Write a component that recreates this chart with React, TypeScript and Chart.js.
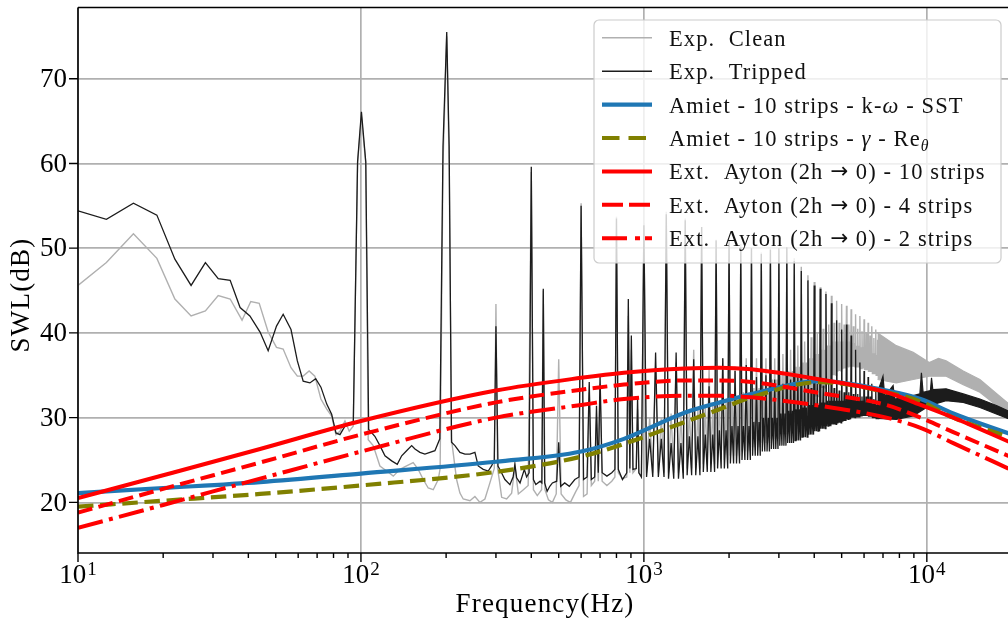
import React, { useEffect, useRef } from 'react';
import { Chart, registerables } from 'chart.js';

Chart.register(...registerables);

// ---------- Experimental data: low-frequency part (10 Hz – 1 kHz) ----------
const tripLowFreq = [10, 12.6, 15.7, 19.0, 22.0, 25.1, 28.2, 31.3, 34.5, 37.4,
  40.5, 44.0, 47.0, 50.3, 53.1, 56.6, 59.6, 62.5, 66.0, 69.2,
  72.2, 75.7, 78.8, 81.6, 84.3, 87.8, 91.0, 94.0, 97.3, 100.4,
  104, 106.5, 112, 116.7, 121.6, 128.4, 134.4, 139.3, 145, 151.1,
  155.2, 161.6, 168.3, 175.3, 182.6, 190, 195, 201, 205, 209,
  214.9, 223.8, 233.1, 242.8, 252.8, 259.7, 270.5, 281.8, 289.5, 296,
  300, 305, 314, 322.7, 336.2, 345, 350, 355, 365, 378,
  385, 393, 400, 407, 415, 430, 436, 441, 446, 455,
  465, 475, 492, 500, 508, 525, 545, 570, 590, 600,
  612, 630, 641, 652, 670, 680, 690, 700, 712, 740,
  770, 790, 800, 812, 840, 870, 881, 892, 903, 915,
  940, 950, 960, 980];
const tripLowDb = [54.4, 53.4, 55.3, 53.9, 48.7, 45.6, 48.3, 46.4, 46.2, 43.0,
  42.0, 40.1, 37.9, 40.8, 42.2, 40.4, 36.7, 34.3, 34.1, 34.6,
  33.6, 31.6, 30.4, 28.2, 28.0, 29.0, 29.2, 29.6, 60.2, 66.1,
  60.2, 28.6, 27.8, 26.7, 25.5, 24.9, 24.5, 25.5, 26.1, 26.7,
  26.3, 25.9, 25.7, 25.9, 26.1, 27.5, 62, 75.5, 62, 27.1,
  26.7, 25.9, 25.7, 25.7, 25.9, 24.3, 23.9, 23.7, 24.3, 25.0,
  40.8, 24.3, 23.5, 22.7, 22.1, 23.0, 24.5, 22.9, 22.3, 23.9,
  23.0, 23.5, 59.6, 22.7, 22.1, 22.5, 22.3, 45.2, 22.3, 21.3,
  21.9, 22.3, 22.5, 27.1, 21.9, 22.3, 21.9, 22.7, 23.0, 55.0,
  22.7, 23.0, 34.2, 22.7, 23.0, 31.4, 23.5, 34.9, 23.5, 23.1,
  23.5, 23.9, 53.5, 23.9, 22.7, 23.5, 44.0, 24.0, 39.7, 23.9,
  24.0, 32.4, 23.5, 23.0];

const cleanLowFreq = [10, 12.6, 15.7, 19.0, 22.0, 25.1, 28.2, 31.3, 34.5, 38.0,
  40.8, 43.7, 47.0, 50.3, 53.1, 56.6, 59.6, 62.5, 65.6, 68.7,
  72.2, 75.7, 78.8, 81.6, 84.3, 87.8, 90.9, 93.9, 97.3, 100.4,
  104, 106.1, 110.5, 116.7, 123.3, 130.1, 137.3, 145, 153, 159.4,
  166, 172.9, 180.1, 187.6, 190.5, 195, 201, 205, 209, 217.8,
  223.8, 229.9, 242.8, 252.8, 263.3, 274.3, 285.6, 296, 300, 304,
  308.2, 314.3, 327.3, 340.9, 350.2, 360, 375, 390, 400, 407,
  420, 435, 441, 447, 460, 475, 490, 500, 510, 530,
  550, 575, 590, 600, 612, 630, 641, 652, 670, 680,
  690, 700, 712, 740, 770, 790, 800, 812, 840, 870,
  881, 892, 903, 915, 940, 950, 960, 980];
const cleanLowDb = [45.6, 48.3, 51.7, 48.8, 44.0, 42.0, 42.6, 44.4, 44.0, 41.5,
  43.7, 43.5, 40.1, 38.3, 38.1, 35.9, 34.9, 34.9, 35.5, 34.9,
  32.2, 31.0, 30.2, 28.0, 28.4, 29.6, 28.4, 29.0, 60.0, 65.5,
  60.0, 27.4, 26.7, 24.3, 23.7, 23.1, 23.9, 24.3, 24.7, 23.9,
  22.7, 21.7, 21.5, 22.7, 24.0, 60.0, 75.0, 60.0, 27.4, 22.7,
  21.1, 20.4, 20.2, 20.7, 20.0, 20.4, 22.3, 24.0, 43.4, 24.0,
  22.7, 20.6, 20.4, 21.1, 24.3, 21.0, 21.5, 22.0, 59.0, 21.5,
  20.8, 21.5, 45.0, 21.5, 20.3, 20.0, 21.0, 36.9, 21.0, 20.3,
  20.0, 21.3, 22.0, 55.3, 20.7, 21.0, 33.0, 22.0, 22.5, 30.0,
  22.5, 34.0, 22.5, 22.0, 22.5, 23.0, 53.7, 23.5, 22.8, 23.0,
  42.0, 23.5, 38.0, 23.5, 24.0, 31.0, 23.5, 23.0];

// ---------- Harmonic region (1 kHz – 6.8 kHz): tones every 200 Hz ----------
const harmonicFreq = [1000, 1200, 1400, 1600, 1800, 2000, 2200, 2400, 2600, 2800,
  3000, 3200, 3400, 3600, 3800, 4000, 4200, 4400, 4600, 4800,
  5000, 5200, 5400, 5600, 5800, 6000, 6200, 6400, 6600];
const tripStrong = [52.7, 54.0, 53.3, 52.5, 50.9, 51.0, 50.1, 50.0, 49.3, 49.8,
  50.0, 50.1, 48.5, 47.3, 46.2, 45.6, 45.2, 44.6, 43.5, 41.5,
  40.4, 41.0, 39.7, 38.0, 36.5, 35.5, 34.8, 34.0, 33.5];
const tripWeak = [37.7, 37.7, 36.9, 33.7, 37.0, 35.5, 36.2, 34.8, 35.0, 34.5,
  34.0, 34.5, 35.0, 34.0, 33.5, 34.0, 33.8, 34.0, 33.5, 33.2,
  33.0, 33.0, 32.8, 32.8, 32.5, 32.5, 32.5, 32.2, 32.0];
const tripMid = [27.5, 27.0, 27.8, 28.0, 28.5, 29.0, 29.0, 29.5, 30.0, 30.0,
  30.5, 30.8, 31.0, 31.2, 31.5, 31.5, 31.8, 32.0, 32.0, 32.0,
  32.0, 32.2, 32.2, 32.0, 32.0, 31.8, 31.8, 31.6, 31.5];
const tripTrough = [23.0, 22.8, 23.2, 23.6, 24.0, 24.6, 25.0, 25.5, 26.0, 26.3,
  26.7, 27.0, 27.3, 27.7, 28.0, 28.4, 28.7, 29.0, 29.2, 29.4,
  29.6, 29.8, 30.0, 30.1, 30.2, 30.2, 30.1, 30.0, 29.9];
const cleanStrong = [53.0, 54.3, 53.5, 52.5, 51.0, 51.0, 50.5, 50.0, 49.5, 50.0,
  50.0, 50.0, 48.8, 47.8, 46.8, 46.0, 45.4, 44.9, 44.4, 43.8,
  43.4, 43.2, 42.8, 42.2, 42.0, 41.6, 41.2, 40.8, 40.4];
const cleanWeak = [36.0, 36.5, 38.0, 36.0, 37.0, 36.0, 37.0, 37.0, 37.0, 37.0,
  37.5, 38.0, 38.5, 39.0, 39.5, 40.0, 40.5, 41.0, 41.2, 41.2,
  41.0, 41.0, 40.8, 40.5, 40.2, 40.0, 39.7, 39.4, 39.2];
const cleanMid = [30.0, 30.5, 31.0, 31.5, 32.0, 32.5, 33.0, 33.5, 34.0, 34.5,
  35.0, 35.5, 36.0, 36.5, 37.0, 37.5, 38.0, 38.5, 39.0, 39.0,
  39.0, 39.0, 38.8, 38.5, 38.3, 38.0, 37.8, 37.6, 37.4];
const cleanTrough = [23.5, 23.5, 24.0, 24.5, 25.0, 25.5, 26.0, 26.5, 27.0, 27.5,
  28.0, 28.5, 29.5, 30.5, 31.5, 32.5, 33.5, 34.5, 35.0, 35.5,
  35.8, 36.0, 36.0, 36.0, 35.8, 35.6, 35.4, 35.2, 35.0];

// ---------- Broadband region (6.7 kHz – 20 kHz): dense band envelopes ----------
const tripBandHiFreq = [6700, 7000, 7100, 7600, 7700, 8950, 9450, 9570, 9700, 10300, 10390, 10500, 11700, 13450, 15400, 17700, 20000];
const tripBandHiDb = [33.0, 34.9, 32.5, 33.8, 32.2, 32.6, 32.8, 35.3, 33.0, 33.2, 34.7, 33.3, 33.4, 32.8, 32.2, 31.4, 30.6];
const tripBandLoFreq = [6700, 7800, 8950, 10200, 11700, 13450, 15400, 17700, 20000];
const tripBandLoDb = [29.9, 29.8, 30.2, 31.4, 32.0, 31.8, 31.2, 30.4, 29.7];
const cleanBandHiFreq = [6700, 7800, 8950, 10200, 11000, 11700, 13450, 15400, 17700, 20000];
const cleanBandHiDb = [40.0, 38.5, 37.7, 36.5, 37.0, 36.7, 35.5, 34.5, 32.8, 31.3];
const cleanBandLoFreq = [6700, 7800, 8950, 10200, 11700, 13450, 15400, 17700, 20000];
const cleanBandLoDb = [34.5, 34.1, 34.5, 34.9, 34.9, 33.9, 33.0, 31.4, 30.0];

// ---------- Models ----------
const modelFreq = [10, 20, 44, 100, 300, 600, 850, 1400, 1850, 2400, 4200, 7200, 9500, 12400, 20000];
const amietKwSST = [21.1, 21.7, 22.4, 23.4, 24.8, 26.0, 27.5, 30.6, 31.8, 32.8, 34.3, 33.2, 32.2, 30.5, 28.0];
const amietGammaRe = [19.5, 20.2, 21.0, 22.0, 23.6, 25.4, 26.9, 29.5, 31.0, 32.4, 34.2, 33.0, 31.9, 30.0, 27.6];
const ayton10 = [20.5, 23.2, 26.3, 29.6, 33.2, 34.7, 35.3, 35.8, 35.9, 35.7, 34.5, 33.0, 31.5, 30.0, 27.0];
const ayton4 = [18.8, 21.6, 24.7, 28.0, 31.8, 33.3, 33.9, 34.4, 34.4, 34.2, 32.9, 31.5, 30.0, 28.3, 25.3];
const ayton2 = [17.0, 19.7, 22.8, 26.0, 30.0, 31.5, 32.2, 32.6, 32.6, 32.4, 31.4, 30.0, 28.8, 27.0, 23.8];

// ---------- Axes ----------
const yTicks = [20, 30, 40, 50, 60, 70];
const xMajor = [10, 100, 1000, 10000];
const xExponents = ['1', '2', '3', '4'];
const X_MIN = 10;
const X_MAX = 20000;
const Y_MIN = 14.03;
const Y_MAX = 78.4;

const FONT = '"Liberation Serif", "Times New Roman", serif';
const C_CLEAN = '#b0b0b0';
const C_TRIP = '#1c1c1c';
const C_BLUE = '#1f77b4';
const C_OLIVE = '#808000';
const C_RED = '#ff0000';

function pts(f: number[], v: number[]) {
  return f.map((x, i) => ({ x, y: v[i] }));
}
function harmonics(f: number[], strong: number[], weak: number[], mid: number[], trough: number[]) {
  const out: { x: number; y: number }[] = [];
  f.forEach((fr, i) => {
    out.push({ x: fr, y: strong[i] });
    out.push({ x: fr + 22, y: trough[i] });
    out.push({ x: fr + 48, y: mid[i] });
    out.push({ x: fr + 75, y: trough[i] });
    out.push({ x: fr + 100, y: weak[i] });
    out.push({ x: fr + 125, y: trough[i] });
    out.push({ x: fr + 152, y: mid[i] });
    out.push({ x: fr + 178, y: trough[i] });
  });
  return out;
}
function band(hf: number[], hv: number[], lf: number[], lv: number[]) {
  return pts(hf, hv).concat(pts(lf, lv).reverse());
}

type Seg = { t: string; it?: boolean; sub?: boolean; font?: string };
const ARROW: Seg = { t: '→', font: '"DejaVu Sans"' };
const legendItems: { segs: Seg[]; color: string; width: number; dash: number[] }[] = [
  { segs: [{ t: 'Exp.  Clean' }], color: C_CLEAN, width: 1.5, dash: [] },
  { segs: [{ t: 'Exp.  Tripped' }], color: C_TRIP, width: 1.4, dash: [] },
  { segs: [{ t: 'Amiet - 10 strips - k-' }, { t: 'ω', it: true }, { t: ' - SST' }], color: C_BLUE, width: 4.2, dash: [] },
  { segs: [{ t: 'Amiet - 10 strips - ' }, { t: 'γ', it: true }, { t: ' - Re' }, { t: 'θ', it: true, sub: true }], color: C_OLIVE, width: 4.2, dash: [17.5, 9] },
  { segs: [{ t: 'Ext.  Ayton (2h ' }, ARROW, { t: ' 0) - 10 strips' }], color: C_RED, width: 4, dash: [] },
  { segs: [{ t: 'Ext.  Ayton (2h ' }, ARROW, { t: ' 0) - 4 strips' }], color: C_RED, width: 4, dash: [21, 6] },
  { segs: [{ t: 'Ext.  Ayton (2h ' }, ARROW, { t: ' 0) - 2 strips' }], color: C_RED, width: 4, dash: [25, 8, 5, 5] },
];

function drawRich(ctx: CanvasRenderingContext2D, segs: Seg[], x: number, y: number, size: number) {
  let cx = x;
  for (const s of segs) {
    const fs = s.sub ? size * 0.7 : s.font ? size * 0.95 : size;
    ctx.font = `${s.it ? 'italic ' : ''}${fs}px ${s.font ? s.font : FONT}`;
    ctx.fillText(s.t, cx, s.sub ? y + size * 0.2 : s.font ? y - 1 : y);
    cx += ctx.measureText(s.t).width;
  }
}

const decorPlugin = {
  id: 'decor',
  afterDraw(chart: any) {
    const ctx: CanvasRenderingContext2D = chart.ctx;
    const { left, right, top, bottom } = chart.chartArea;
    const xs = chart.scales.x;
    const ys = chart.scales.y;
    ctx.save();
    ctx.strokeStyle = '#000';
    ctx.fillStyle = '#000';
    // spines
    ctx.lineWidth = 1.6;
    ctx.beginPath();
    ctx.moveTo(left, top);
    ctx.lineTo(right, top);
    ctx.moveTo(left, top);
    ctx.lineTo(left, bottom);
    ctx.lineTo(right, bottom);
    ctx.stroke();
    // x ticks (major + minor)
    ctx.lineWidth = 1.4;
    ctx.beginPath();
    for (const d of xMajor) {
      for (let m = 1; m <= 9; m++) {
        const f = d * m;
        if (f < X_MIN || f > X_MAX) continue;
        const px = xs.getPixelForValue(f);
        const len = m === 1 ? 9 : 5;
        ctx.moveTo(px, bottom);
        ctx.lineTo(px, bottom + len);
      }
    }
    // y ticks
    for (const v of yTicks) {
      const py = ys.getPixelForValue(v);
      ctx.moveTo(left - 9, py);
      ctx.lineTo(left, py);
    }
    ctx.stroke();
    // y tick labels
    ctx.font = `27px ${FONT}`;
    ctx.textAlign = 'right';
    ctx.textBaseline = 'middle';
    for (const v of yTicks) {
      ctx.fillText(String(v), left - 11, ys.getPixelForValue(v) + 1);
    }
    // x tick labels 10^n
    ctx.textAlign = 'left';
    ctx.textBaseline = 'alphabetic';
    xMajor.forEach((v, i) => {
      const px = xs.getPixelForValue(v);
      ctx.font = `27px ${FONT}`;
      const wb = ctx.measureText('10').width;
      ctx.font = `19px ${FONT}`;
      const we = ctx.measureText(xExponents[i]).width;
      const x0 = px - (wb + we + 1) / 2;
      ctx.font = `27px ${FONT}`;
      ctx.fillText('10', x0, 583);
      ctx.font = `19px ${FONT}`;
      ctx.fillText(xExponents[i], x0 + wb + 1, 575);
    });
    // axis titles
    (ctx as any).letterSpacing = '1.2px';
    ctx.font = `27px ${FONT}`;
    ctx.textAlign = 'center';
    ctx.textBaseline = 'alphabetic';
    ctx.fillText('Frequency(Hz)', 545, 612);
    ctx.save();
    ctx.translate(22, 295);
    ctx.rotate(-Math.PI / 2);
    ctx.textBaseline = 'middle';
    ctx.fillText('SWL(dB)', 0, 0);
    ctx.restore();
    // legend
    const bx = 594, by = 20, bw = 407, bh = 243, r = 5;
    ctx.beginPath();
    ctx.moveTo(bx + r, by);
    ctx.lineTo(bx + bw - r, by);
    ctx.arcTo(bx + bw, by, bx + bw, by + r, r);
    ctx.lineTo(bx + bw, by + bh - r);
    ctx.arcTo(bx + bw, by + bh, bx + bw - r, by + bh, r);
    ctx.lineTo(bx + r, by + bh);
    ctx.arcTo(bx, by + bh, bx, by + bh - r, r);
    ctx.lineTo(bx, by + r);
    ctx.arcTo(bx, by, bx + r, by, r);
    ctx.closePath();
    ctx.fillStyle = 'rgba(255,255,255,0.8)';
    ctx.fill();
    ctx.strokeStyle = '#cccccc';
    ctx.lineWidth = 1.2;
    ctx.stroke();
    (ctx as any).letterSpacing = '1.1px';
    ctx.textAlign = 'left';
    ctx.textBaseline = 'alphabetic';
    legendItems.forEach((it, i) => {
      const yc = 37.8 + i * 33.4;
      ctx.save();
      ctx.beginPath();
      ctx.rect(600, yc - 5, 53, 10);
      ctx.clip();
      ctx.strokeStyle = it.color;
      ctx.lineWidth = it.width;
      ctx.setLineDash(it.dash);
      ctx.lineCap = 'butt';
      ctx.beginPath();
      ctx.moveTo(602, yc);
      ctx.lineTo(652, yc);
      ctx.stroke();
      ctx.restore();
      ctx.fillStyle = '#111';
      drawRich(ctx, it.segs, 669, yc + 8, 22.5);
    });
    ctx.restore();
  },
};

export default function App() {
  const ref = useRef<HTMLCanvasElement>(null);
  useEffect(() => {
    document.body.style.margin = '0';
    const tripped = pts(tripLowFreq, tripLowDb).concat(harmonics(harmonicFreq, tripStrong, tripWeak, tripMid, tripTrough));
    const clean = pts(cleanLowFreq, cleanLowDb).concat(harmonics(harmonicFreq, cleanStrong, cleanWeak, cleanMid, cleanTrough));
    const model = (vals: number[], color: string, width: number, dash: number[], order: number, label: string) => ({
      label,
      data: pts(modelFreq, vals),
      borderColor: color,
      borderWidth: width,
      borderDash: dash,
      cubicInterpolationMode: 'monotone' as const,
      pointRadius: 0,
      fill: false,
      order,
    });
    const chart = new Chart(ref.current as HTMLCanvasElement, {
      type: 'line',
      data: {
        datasets: [
          { label: 'Exp. Clean', data: clean, borderColor: C_CLEAN, borderWidth: 1.4, pointRadius: 0, tension: 0, fill: false, order: 12 },
          { label: 'Exp. Clean band', data: band(cleanBandHiFreq, cleanBandHiDb, cleanBandLoFreq, cleanBandLoDb), borderColor: C_CLEAN, backgroundColor: C_CLEAN, borderWidth: 1.2, pointRadius: 0, tension: 0, fill: 'shape', order: 11 },
          { label: 'Exp. Tripped', data: tripped, borderColor: C_TRIP, borderWidth: 1.3, pointRadius: 0, tension: 0, fill: false, order: 10 },
          { label: 'Exp. Tripped band', data: band(tripBandHiFreq, tripBandHiDb, tripBandLoFreq, tripBandLoDb), borderColor: C_TRIP, backgroundColor: C_TRIP, borderWidth: 1.2, pointRadius: 0, tension: 0, fill: 'shape', order: 9 },
          model(amietKwSST, C_BLUE, 4.2, [], 5, 'Amiet - 10 strips - k-ω - SST'),
          model(amietGammaRe, C_OLIVE, 4.2, [15.5, 6.7], 4, 'Amiet - 10 strips - γ - Reθ'),
          model(ayton10, C_RED, 4, [], 3, 'Ext. Ayton (2h → 0) - 10 strips'),
          model(ayton4, C_RED, 4, [14.8, 6.4], 2, 'Ext. Ayton (2h → 0) - 4 strips'),
          model(ayton2, C_RED, 4, [25.6, 6.4, 4, 6.4], 1, 'Ext. Ayton (2h → 0) - 2 strips'),
        ] as any,
      },
      options: {
        animation: false,
        responsive: false,
        devicePixelRatio: 1,
        layout: { padding: { left: 0, right: 0, top: 7.5, bottom: 0 } },
        plugins: { legend: { display: false }, tooltip: { enabled: false } },
        elements: { point: { radius: 0 } },
        scales: {
          x: {
            type: 'logarithmic',
            min: X_MIN,
            max: X_MAX,
            ticks: { display: false },
            grid: { color: C_CLEAN, lineWidth: 1.7, drawTicks: false },
            border: { display: false },
            afterBuildTicks: (s: any) => { s.ticks = xMajor.map((v) => ({ value: v })); },
            afterFit: (s: any) => { s.height = 68; },
          },
          y: {
            type: 'linear',
            min: Y_MIN,
            max: Y_MAX,
            ticks: { display: false },
            grid: { color: C_CLEAN, lineWidth: 1.7, drawTicks: false },
            border: { display: false },
            afterBuildTicks: (s: any) => { s.ticks = yTicks.map((v) => ({ value: v })); },
            afterFit: (s: any) => { s.width = 78; },
          },
        },
      } as any,
      plugins: [decorPlugin],
    });
    return () => chart.destroy();
  }, []);
  return (
    <div style={{ position: 'fixed', left: 0, top: 0, width: 1008, height: 621, overflow: 'hidden', background: '#fff' }}>
      <canvas ref={ref} width={1012} height={621} style={{ display: 'block' }} />
    </div>
  );
}
